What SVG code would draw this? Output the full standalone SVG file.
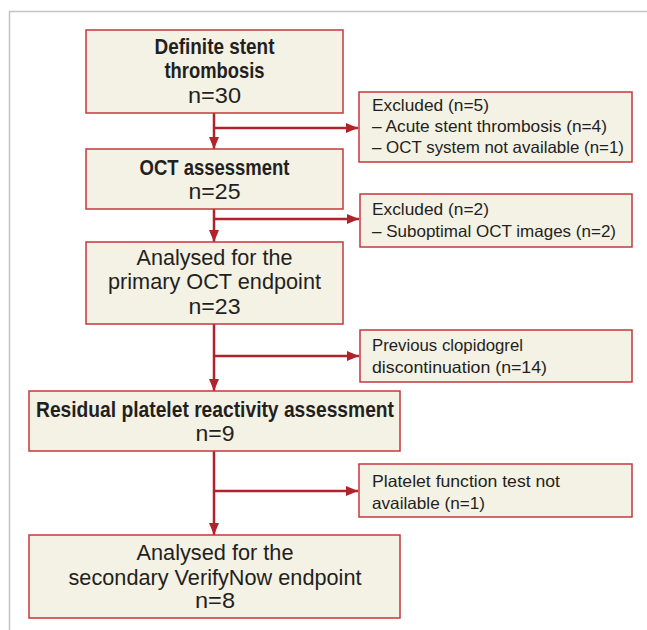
<svg xmlns="http://www.w3.org/2000/svg" width="647" height="630" viewBox="0 0 647 630">
<defs>
<style>
.box{fill:#f4f1e5;stroke:#c3383e;stroke-width:1.5}
.t{font-family:"Liberation Sans",Arial,sans-serif;fill:#231f20;font-size:22.5px;text-anchor:middle}
.b{font-weight:bold}
.e{font-family:"Liberation Sans",Arial,sans-serif;fill:#231f20;font-size:16.5px}
.c{fill:none;stroke:#b0232b;stroke-width:2.5}
</style>
<marker id="ah" viewBox="0 0 12 10" refX="12" refY="5" markerWidth="12" markerHeight="10" markerUnits="userSpaceOnUse" orient="auto">
<path d="M0,0 L12,5 L0,10 Z" fill="#b0232b"/>
</marker>
</defs>
<rect width="647" height="630" fill="#ffffff"/>
<path d="M9.5,630 V11.5 H647" fill="none" stroke="#c2c2c2" stroke-width="1.5"/>

<g id="connectors">
<line class="c" x1="214" y1="113" x2="214" y2="149" marker-end="url(#ah)"/>
<line class="c" x1="214" y1="128" x2="358" y2="128" marker-end="url(#ah)"/>
<line class="c" x1="214" y1="209" x2="214" y2="242" marker-end="url(#ah)"/>
<line class="c" x1="214" y1="219" x2="359" y2="219" marker-end="url(#ah)"/>
<line class="c" x1="214" y1="324" x2="214" y2="391" marker-end="url(#ah)"/>
<line class="c" x1="214" y1="356" x2="359" y2="356" marker-end="url(#ah)"/>
<line class="c" x1="214" y1="451" x2="214" y2="535" marker-end="url(#ah)"/>
<line class="c" x1="214" y1="491" x2="358" y2="491" marker-end="url(#ah)"/>
</g>

<g id="node-definite">
<rect class="box" x="86" y="30" width="257" height="83"/>
<text class="t b" x="214.5" y="54" textLength="120" lengthAdjust="spacingAndGlyphs">Definite stent</text>
<text class="t b" x="214.5" y="78" textLength="100" lengthAdjust="spacingAndGlyphs">thrombosis</text>
<text class="t" x="214.5" y="103" textLength="53" lengthAdjust="spacingAndGlyphs">n=30</text>
</g>

<g id="node-excl1">
<rect class="box" x="359" y="92" width="273" height="70"/>
<text class="e" x="372" y="111" textLength="117" lengthAdjust="spacingAndGlyphs">Excluded (n=5)</text>
<text class="e" x="372" y="132" textLength="235" lengthAdjust="spacingAndGlyphs">– Acute stent thrombosis (n=4)</text>
<text class="e" x="372" y="153" textLength="252" lengthAdjust="spacingAndGlyphs">– OCT system not available (n=1)</text>
</g>

<g id="node-oct">
<rect class="box" x="86" y="149" width="257" height="60"/>
<text class="t b" x="214.5" y="175" textLength="150" lengthAdjust="spacingAndGlyphs">OCT assessment</text>
<text class="t" x="214.5" y="199" textLength="52" lengthAdjust="spacingAndGlyphs">n=25</text>
</g>

<g id="node-excl2">
<rect class="box" x="360" y="194" width="272" height="53"/>
<text class="e" x="372" y="215" textLength="117" lengthAdjust="spacingAndGlyphs">Excluded (n=2)</text>
<text class="e" x="372" y="237" textLength="244" lengthAdjust="spacingAndGlyphs">– Suboptimal OCT images (n=2)</text>
</g>

<g id="node-primary">
<rect class="box" x="86" y="242" width="257" height="82"/>
<text class="t" x="214.5" y="265" textLength="156" lengthAdjust="spacingAndGlyphs">Analysed for the</text>
<text class="t" x="214.5" y="289" textLength="213" lengthAdjust="spacingAndGlyphs">primary OCT endpoint</text>
<text class="t" x="214.5" y="314" textLength="52" lengthAdjust="spacingAndGlyphs">n=23</text>
</g>

<g id="node-excl3">
<rect class="box" x="360" y="330" width="272" height="52"/>
<text class="e" x="372" y="351" textLength="151" lengthAdjust="spacingAndGlyphs">Previous clopidogrel</text>
<text class="e" x="372" y="373" textLength="175" lengthAdjust="spacingAndGlyphs">discontinuation (n=14)</text>
</g>

<g id="node-residual">
<rect class="box" x="29" y="391" width="371" height="60"/>
<text class="t b" x="215" y="417" textLength="358" lengthAdjust="spacingAndGlyphs">Residual platelet reactivity assessment</text>
<text class="t" x="215" y="441" textLength="39" lengthAdjust="spacingAndGlyphs">n=9</text>
</g>

<g id="node-excl4">
<rect class="box" x="359" y="464" width="273" height="53"/>
<text class="e" x="372" y="487" textLength="188" lengthAdjust="spacingAndGlyphs">Platelet function test not</text>
<text class="e" x="372" y="509" textLength="113" lengthAdjust="spacingAndGlyphs">available (n=1)</text>
</g>

<g id="node-secondary">
<rect class="box" x="29" y="535" width="371" height="83"/>
<text class="t" x="215" y="560" textLength="157" lengthAdjust="spacingAndGlyphs">Analysed for the</text>
<text class="t" x="215" y="585" textLength="293" lengthAdjust="spacingAndGlyphs">secondary VerifyNow endpoint</text>
<text class="t" x="215" y="608" textLength="40" lengthAdjust="spacingAndGlyphs">n=8</text>
</g>
</svg>
